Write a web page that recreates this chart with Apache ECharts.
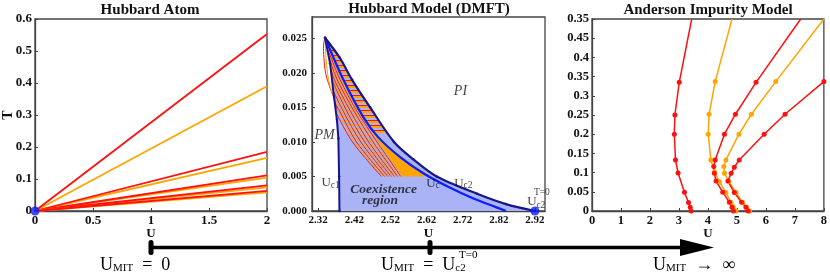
<!DOCTYPE html>
<html><head><meta charset="utf-8">
<script src="https://cdn.jsdelivr.net/npm/echarts@6/dist/echarts.min.js"></script>
<style>html,body{margin:0;padding:0;background:#fff}#c{width:830px;height:280px}</style>
</head><body><div id="c"></div>
<script>
const SERIF = '"Liberation Serif", "DejaVu Serif", serif';
const RED = '#ff1010', ORANGE = '#ffa500', NAVY = '#16168c', BLUE = '#0a1eff', FILL = '#a9b3f6';

// ---------- Panel 1: Hubbard Atom ----------
const atomU = [0, 2];
const atomRedEnd = [0.553, 0.185, 0.111, 0.080, 0.063];
const atomOrangeEnd = [0.39, 0.166, 0.104, 0.074, 0.058];

// ---------- Panel 2: Hubbard Model (DMFT) ----------
const dmftXTicks = [2.32, 2.42, 2.52, 2.62, 2.72, 2.82, 2.92];
const dmftYTicks = [0, 0.005, 0.01, 0.015, 0.02, 0.025];
const uc1U = [2.379, 2.378, 2.376, 2.372, 2.364, 2.353, 2.339];
const uc1T = [0, 0.005, 0.0105, 0.0132, 0.0165, 0.0214, 0.0251];
const uc2U = [2.339, 2.38, 2.414, 2.464, 2.53, 2.583, 2.648, 2.76, 2.84, 2.92];
const uc2T = [0.0251, 0.0222, 0.019, 0.015, 0.010, 0.0075, 0.005, 0.0025, 0.001, 0];
const ucU = [2.339, 2.39, 2.445, 2.486, 2.547, 2.61, 2.68, 2.75, 2.81, 2.84];
const ucT = [0.0251, 0.019, 0.0136, 0.0107, 0.0078, 0.0055, 0.0035, 0.0018, 0.0006, 0];
const leftRedU = [2.339, 2.335, 2.336, 2.341, 2.352, 2.364, 2.371];
const leftRedT = [0.0251, 0.0240, 0.0222, 0.0199, 0.018, 0.0163, 0.0148];
const leftOrangeU = [2.339, 2.342, 2.349, 2.360];
const leftOrangeT = [0.0251, 0.022, 0.019, 0.0168];
const fanStartU = [2.369, 2.367, 2.365, 2.364, 2.362, 2.360, 2.358, 2.357, 2.355, 2.353, 2.350, 2.347, 2.344, 2.341];
const fanStartT = [0.0143, 0.0151, 0.0158, 0.0166, 0.0174, 0.0182, 0.0190, 0.0198, 0.0206, 0.0214, 0.0222, 0.0230, 0.0238, 0.0246];
const fanU19 = [null, null, null, null, null, null, null, 2.361, 2.365, 2.369, 2.373, 2.377, 2.381, 2.385];
const fanU145 = [null, 2.374, 2.379, 2.384, 2.389, 2.394, 2.399, 2.404, 2.409, 2.414, 2.419, 2.423, 2.427, 2.430];
const fanU10 = [2.415, 2.421, 2.426, 2.432, 2.438, 2.443, 2.449, 2.455, 2.460, 2.466, 2.472, 2.477, 2.483, 2.488];
const fanU05 = [2.495, 2.500, 2.504, 2.509, 2.513, 2.518, 2.522, 2.527, 2.531, 2.536, 2.540, 2.545, 2.549, 2.554];
const orangeU = [2.476, 2.488, 2.521, 2.554, 2.638, 2.61, 2.547, 2.486];
const orangeT = [0.0112, 0.010, 0.0075, 0.005, 0.005, 0.0055, 0.0078, 0.0107];
const hatchU = [2.339, 2.38, 2.414, 2.464, 2.516, 2.481, 2.445, 2.39];
const hatchT = [0.0251, 0.0222, 0.019, 0.015, 0.011, 0.011, 0.0136, 0.019];

// ---------- Panel 3: Anderson Impurity Model ----------
const andYTicks = [0, 0.05, 0.1, 0.15, 0.2, 0.25, 0.3, 0.35, 0.4, 0.45, 0.5];
const andYLabels = ['0', '0.05', '0.1', '0.15', '0.2', '0.25', '0.3', '0.35', '0.4', '0.45', '0.35'];
const and1U = [3.42, 3.39, 3.33, 3.19, 2.97, 2.88, 2.84, 2.86, 3.01, 3.44];
const and1T = [0.0, 0.01, 0.022, 0.049, 0.099, 0.133, 0.2, 0.25, 0.335, 0.5];
const and2U = [4.97, 4.87, 4.80, 4.62, 4.40, 4.23, 4.10, 4.01, 4.04, 4.25, 4.83];
const and2T = [0.0, 0.011, 0.022, 0.048, 0.076, 0.102, 0.133, 0.2, 0.252, 0.337, 0.5];
const and3U = [4.88, 4.83, 4.74, 4.51, 4.28, 4.22, 4.20, 4.25, 4.57, 4.95, 5.66, 7.2];
const and3T = [0.0, 0.01, 0.0225, 0.049, 0.078, 0.098, 0.116, 0.133, 0.2, 0.252, 0.335, 0.5];
const and4U = [5.44, 5.33, 5.20, 4.97, 4.72, 4.57, 4.55, 4.62, 5.07, 5.5, 6.34, 8.0];
const and4T = [0.0, 0.0095, 0.022, 0.048, 0.077, 0.098, 0.116, 0.133, 0.2, 0.252, 0.337, 0.5];
const and5U = [5.39, 5.31, 5.16, 4.91, 4.69, 4.80, 4.91, 5.08, 5.94, 6.66, 8.0];
const and5T = [0.0, 0.0095, 0.0225, 0.048, 0.078, 0.098, 0.114, 0.133, 0.2, 0.252, 0.337];

const chart = echarts.init(document.getElementById('c'), null, {renderer: 'canvas'});

// hatch pattern
const pc = document.createElement('canvas'); pc.width = 4; pc.height = 5;
const pctx = pc.getContext('2d');
pctx.fillStyle = RED; pctx.fillRect(0, 0, 4, 1);
pctx.fillStyle = ORANGE; pctx.fillRect(0, 1, 4, 2);
const hatchPattern = {image: pc, repeat: 'repeat'};

const pts = (U, T) => U.map((u, i) => [u, T[i]]);
const lab = (size, margin) => ({fontFamily: SERIF, fontWeight: 'bold', fontSize: size, color: '#111', margin: margin});
const axisLineBase = {show: true, lineStyle: {color: '#444', width: 1.3}};
const tickBase = {show: true, inside: true, length: 3, lineStyle: {color: '#444'}};
const nameStyle = {fontFamily: SERIF, fontWeight: 'bold', fontSize: 13, color: '#111'};
const fmtNum = v => String(+v.toFixed(3));
const xName = {name: 'U', nameLocation: 'middle', nameGap: 16, nameMoveOverlap: false, nameTextStyle: nameStyle};

const series = [];
// Panel 1 lines
atomRedEnd.forEach((v, i) => {
  series.push({type: 'line', xAxisIndex: 0, yAxisIndex: 0, data: [[atomU[0], 0], [atomU[1], atomOrangeEnd[i]]],
    showSymbol: false, lineStyle: {color: ORANGE, width: 1.8}, z: 3, silent: true});
  series.push({type: 'line', xAxisIndex: 0, yAxisIndex: 0, data: [[atomU[0], 0], [atomU[1], v]],
    showSymbol: false, lineStyle: {color: RED, width: 1.8}, z: 3, silent: true});
});
series.push({type: 'scatter', xAxisIndex: 0, yAxisIndex: 0, data: [[0, 0]], symbolSize: 9,
  itemStyle: {color: '#0a1eff'}, z: 6, clip: false});

// Panel 2 polygons
function polySeries(U, T, fill, z) {
  return {type: 'custom', xAxisIndex: 1, yAxisIndex: 1, data: pts(U, T), encode: {x: 0, y: 1}, z: z, silent: true,
    renderItem: (params, api) => {
      if (params.dataIndex !== 0) return null;
      return {type: 'polygon', shape: {points: U.map((u, i) => api.coord([u, T[i]]))}, style: {fill: fill}};
    }};
}
const blueU = uc1U.concat(uc2U.slice(1));
const blueT = uc1T.concat(uc2T.slice(1));
series.push(polySeries(blueU, blueT, FILL, 1));
series.push(polySeries(hatchU, hatchT, hatchPattern, 2));
series.push(polySeries(orangeU, orangeT, ORANGE, 2));
// fan lines
fanStartU.forEach((u, i) => {
  const d = [[u, fanStartT[i]]];
  if (fanU19[i] !== null) d.push([fanU19[i], 0.019]);
  if (fanU145[i] !== null) d.push([fanU145[i], 0.0145]);
  d.push([fanU10[i], 0.010]);
  d.push([fanU05[i], 0.005]);
  series.push({type: 'line', xAxisIndex: 1, yAxisIndex: 1, data: d, showSymbol: false, smooth: 0.3,
    lineStyle: {color: i % 2 ? ORANGE : RED, width: 1}, z: 3, silent: true});
});
series.push({type: 'line', xAxisIndex: 1, yAxisIndex: 1, data: pts(leftRedU, leftRedT), showSymbol: false, smooth: 0.4,
  lineStyle: {color: RED, width: 1}, z: 3, silent: true});
series.push({type: 'line', xAxisIndex: 1, yAxisIndex: 1, data: pts(leftOrangeU, leftOrangeT), showSymbol: false, smooth: 0.4,
  lineStyle: {color: ORANGE, width: 1}, z: 3, silent: true});
series.push({type: 'line', xAxisIndex: 1, yAxisIndex: 1, data: pts(uc1U, uc1T), symbol: 'circle', symbolSize: 2.5,
  itemStyle: {color: NAVY}, lineStyle: {color: NAVY, width: 2}, z: 4, silent: true});
series.push({type: 'line', xAxisIndex: 1, yAxisIndex: 1, data: pts(ucU, ucT), showSymbol: false, smooth: 0.3,
  lineStyle: {color: BLUE, width: 2.2}, z: 4, silent: true});
series.push({type: 'line', xAxisIndex: 1, yAxisIndex: 1, data: pts(uc2U, uc2T), symbol: 'circle', symbolSize: 2.5, smooth: 0.3,
  itemStyle: {color: NAVY}, lineStyle: {color: NAVY, width: 2.2}, z: 4, silent: true});
series.push({type: 'scatter', xAxisIndex: 1, yAxisIndex: 1, data: [[2.92, 0]], symbolSize: 9,
  itemStyle: {color: '#0a1eff'}, z: 6, clip: false});

// Panel 2 annotations
const annotU = [2.714, 2.338, 2.3546, 2.501, 2.4914, 2.638, 2.722, 2.9116, 2.9393, 2.9366];
const annotT = [0.0174, 0.0110, 0.0041, 0.00307, 0.00155, 0.0040, 0.0040, 0.00130, 0.00268, 0.00085];
const annotText = ['{i|PI}', '{i|PM}', '{u|U}{s|c1}', '{b|Coexistence}', '{b|region}', '{u|U}{s|c}', '{u|U}{s|c2}', '{u|U}', '{p|T=0}', '{p|c2}'];
const annotRich = {
  i: {fontFamily: SERIF, fontStyle: 'italic', fontSize: 14, color: '#111'},
  b: {fontFamily: SERIF, fontStyle: 'italic', fontWeight: 'bold', fontSize: 13.5, color: '#111'},
  u: {fontFamily: SERIF, fontSize: 13, color: '#111', lineHeight: 15},
  s: {fontFamily: SERIF, fontSize: 9.5, color: '#111', lineHeight: 9, verticalAlign: 'bottom'},
  p: {fontFamily: SERIF, fontSize: 9.5, color: '#111'}
};
series.push({type: 'scatter', xAxisIndex: 1, yAxisIndex: 1, symbolSize: 0, z: 8, silent: true, clip: false,
  data: annotU.map((u, i) => ({value: [u, annotT[i]], label: {formatter: annotText[i]}})),
  label: {show: true, position: 'inside', rich: annotRich}});

// Panel 3 lines
[[and1U, and1T, RED], [and2U, and2T, ORANGE], [and3U, and3T, RED], [and4U, and4T, ORANGE], [and5U, and5T, RED]].forEach(([U, T, c]) => {
  series.push({type: 'line', xAxisIndex: 2, yAxisIndex: 2, symbol: 'circle', symbolSize: 5, silent: true, z: 3,
    data: U.map((u, i) => (T[i] >= 0.5 ? {value: [u, T[i]], symbol: 'none'} : [u, T[i]])),
    itemStyle: {color: c}, lineStyle: {color: c, width: 1.5}});
});

const bigRich = {
  u: {fontFamily: SERIF, fontSize: 18, lineHeight: 18, fill: '#000'},
  s: {fontFamily: SERIF, fontSize: 11, lineHeight: 12, verticalAlign: 'bottom', fill: '#000'},
  c: {fontFamily: SERIF, fontSize: 11, lineHeight: 5, verticalAlign: 'bottom', fill: '#000'}
};

const option = {
  backgroundColor: '#fff',
  animation: false,
  title: [
    {text: 'Hubbard Atom', left: 150, top: 3, textAlign: 'center'},
    {text: 'Hubbard Model (DMFT)', left: 429, top: 2, textAlign: 'center'},
    {text: 'Anderson Impurity Model', left: 708, top: 3, textAlign: 'center'}
  ].map(t => Object.assign(t, {padding: 0, textStyle: {fontFamily: SERIF, fontWeight: 'bold', fontSize: 15, color: '#111'}})),
  grid: [
    {left: 34, top: 19, width: 233, height: 192},
    {left: 312, top: 17, width: 233, height: 194},
    {left: 592, top: 19, width: 233, height: 192}
  ].map(g => Object.assign(g, {show: true, borderColor: '#444', borderWidth: 1.3, backgroundColor: 'transparent'})),
  xAxis: [
    Object.assign({gridIndex: 0, type: 'value', min: 0, max: 2, interval: 0.5,
     axisLabel: Object.assign(lab(13, 3), {formatter: fmtNum}), axisTick: tickBase, axisLine: axisLineBase, splitLine: {show: false}}, xName),
    Object.assign({gridIndex: 1, type: 'value', min: 2.303, max: 2.948,
     axisLabel: Object.assign(lab(11, 4), {customValues: dmftXTicks, formatter: v => v.toFixed(2)}),
     axisTick: Object.assign({}, tickBase, {customValues: dmftXTicks}), axisLine: axisLineBase, splitLine: {show: false}}, xName),
    Object.assign({gridIndex: 2, type: 'value', min: 0, max: 8, interval: 1,
     axisLabel: Object.assign(lab(12.5, 3), {formatter: fmtNum}), axisTick: tickBase, axisLine: axisLineBase, splitLine: {show: false}}, xName)
  ],
  yAxis: [
    {gridIndex: 0, type: 'value', min: 0, max: 0.6, interval: 0.1,
     axisLabel: Object.assign(lab(13, 3), {formatter: fmtNum}), axisTick: tickBase, axisLine: axisLineBase, splitLine: {show: false},
     name: 'T', nameLocation: 'middle', nameGap: 20, nameMoveOverlap: false, nameTextStyle: Object.assign({}, nameStyle, {fontSize: 14})},
    {gridIndex: 1, type: 'value', min: 0, max: 0.0281,
     axisLabel: Object.assign(lab(11, 5), {customValues: dmftYTicks, formatter: v => v.toFixed(3)}),
     axisTick: Object.assign({}, tickBase, {customValues: dmftYTicks}), axisLine: axisLineBase, splitLine: {show: false}},
    {gridIndex: 2, type: 'value', min: 0, max: 0.5,
     axisLabel: Object.assign(lab(12.5, 3), {customValues: andYTicks,
       formatter: v => andYLabels[andYTicks.findIndex(t => Math.abs(t - v) < 1e-6)] || ''}),
     axisTick: Object.assign({}, tickBase, {customValues: andYTicks}), axisLine: axisLineBase, splitLine: {show: false}}
  ],
  graphic: [
    {type: 'line', shape: {x1: 151, y1: 247.5, x2: 688, y2: 247.5}, style: {stroke: '#000', lineWidth: 3.5}},
    {type: 'polygon', shape: {points: [[680, 239], [714, 247.5], [680, 256]]}, style: {fill: '#000'}},
    {type: 'rect', shape: {x: 148.5, y: 240, width: 5, height: 15, r: 2.5}, style: {fill: '#000'}},
    {type: 'rect', shape: {x: 427.5, y: 240, width: 5, height: 15, r: 2.5}, style: {fill: '#000'}},
    {type: 'text', x: 100, y: 265, style: {text: '{u|U}{s|MIT}{u|\u2002=\u20020}', textVerticalAlign: 'middle', rich: bigRich}},
    {type: 'text', x: 381, y: 265, style: {text: '{u|U}{s|MIT}{u|\u2002=\u2002U}{c|c2}', textVerticalAlign: 'middle', rich: bigRich}},
    {type: 'text', x: 459, y: 255, style: {text: 'T=0', textVerticalAlign: 'middle', font: '11px ' + SERIF, fill: '#000'}},
    {type: 'text', x: 653, y: 265, style: {text: '{u|U}{s|MIT}{u|\u2002\u2192\u2002\u221e}', textVerticalAlign: 'middle', rich: bigRich}}
  ],
  series: series
};
chart.setOption(option);
</script></body></html>
